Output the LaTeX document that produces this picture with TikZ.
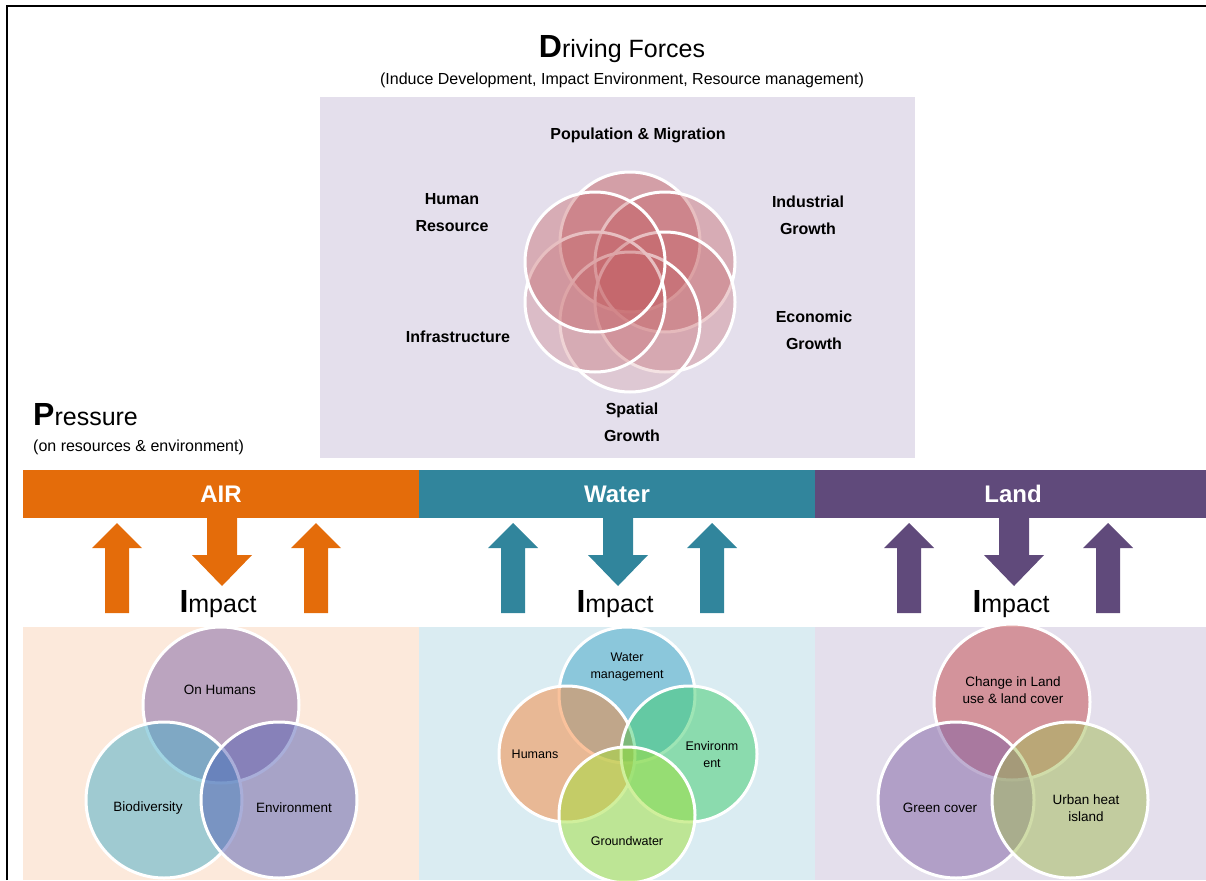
\documentclass[tikz,border=0pt]{standalone}
\usepackage{fontspec}
\setmainfont{Liberation Sans}
\usetikzlibrary{positioning}

\definecolor{airorange}{RGB}{228,108,10}
\definecolor{waterteal}{RGB}{49,133,156}
\definecolor{landpurple}{RGB}{96,74,123}
\definecolor{lavender}{RGB}{228,223,236}
\definecolor{peach}{RGB}{252,233,219}
\definecolor{paleblue}{RGB}{218,236,242}
\definecolor{rose}{RGB}{196,96,100}
% venn fills
\definecolor{vhumans}{RGB}{124,97,165}
\definecolor{vbio}{RGB}{68,173,201}
\definecolor{venv}{RGB}{84,95,181}
\definecolor{vwater}{RGB}{62,164,198}
\definecolor{vpeople}{RGB}{246,134,58}
\definecolor{vmint}{RGB}{62,204,108}
\definecolor{vground}{RGB}{162,224,58}
\definecolor{vchange}{RGB}{196,73,76}
\definecolor{vgreen}{RGB}{128,97,164}
\definecolor{vurban}{RGB}{162,187,84}

\newcommand{\initcap}[1]{{\fontsize{32}{32}\selectfont\bfseries #1}}
\newcommand{\uparr}[2]{\fill[#2] ({#1-12},613) -- ({#1-12},548) -- ({#1-25},548) -- (#1,523) -- ({#1+25},548) -- ({#1+12},548) -- ({#1+12},613) -- cycle;}
\newcommand{\downarr}[2]{\fill[#2] ({#1-15},518) -- ({#1-15},555) -- ({#1-30},555) -- (#1,586) -- ({#1+30},555) -- ({#1+15},555) -- ({#1+15},518) -- cycle;}

\tikzset{
  title/.style={inner sep=0pt, font=\fontsize{25}{30}\selectfont},
  note/.style={inner sep=0pt, font=\fontsize{16}{20}\selectfont},
  force/.style={inner sep=0pt, align=center, font=\fontsize{16}{27}\selectfont\bfseries},
  bar/.style={inner sep=0pt, minimum height=48, text=white, font=\fontsize{24}{24}\selectfont\bfseries},
  petal/.style={fill=rose, draw=white, line width=3pt},
  vennring/.style={draw=white, line width=3pt, fill opacity=0.5},
  venntxt/.style={inner sep=0pt, align=center, font=\fontsize{13.5}{17}\selectfont}
}

\begin{document}
\begin{tikzpicture}[x=1pt, y=-1pt]
\useasboundingbox (0,0) rectangle (1206,880);

 % frame
\draw[line width=2.5pt] (7,880) -- (7,6) -- (1206,6);

 % driving forces
\node[title, anchor=base] (drv) at (622,58) {\initcap{D}riving Forces};
\node[note] (drvsub) at (622,80) {(Induce Development, Impact Environment, Resource management)};
\fill[lavender] (320,97) rectangle (915,458);

\draw[petal, fill opacity=0.5] (630,242) circle (70);
\draw[petal, fill opacity=0.4] (665,262) circle (70);
\draw[petal, fill opacity=0.3] (665,302) circle (70);
\draw[petal, fill opacity=0.18] (630,322) circle (70);
\draw[petal, fill opacity=0.27] (595,302) circle (70);
\draw[petal, fill opacity=0.4] (595,262) circle (70);

\node[force] (pop) at (638,135.5) {Population \& Migration};
\node[force] (hum) at (452,213) {Human\\Resource};
\node[force] (ind) at (808,215) {Industrial\\Growth};
\node[force] (eco) at (814,330) {Economic\\Growth};
\node[force] (inf) at (458,337) {Infrastructure};
\node[force] (spa) at (632,422) {Spatial\\Growth};

 % pressure
\node[title, anchor=base west] (prs) at (33,425) {\initcap{P}ressure};
\node[note, anchor=west] (prssub) at (33,447) {(on resources \& environment)};

\node[bar, fill=airorange, minimum width=396] (air) at (221,494) {AIR};
\node[bar, fill=waterteal, minimum width=396] (water) at (617,494) {Water};
\node[bar, fill=landpurple, minimum width=396] (land) at (1013,494) {Land};

 % arrows
\uparr{117}{airorange}
\downarr{222}{airorange}
\uparr{316}{airorange}
\uparr{513}{waterteal}
\downarr{618}{waterteal}
\uparr{712}{waterteal}
\uparr{909}{landpurple}
\downarr{1014}{landpurple}
\uparr{1108}{landpurple}

\node[title, anchor=base] (impair) at (218,612) {\initcap{I}mpact};
\node[title, anchor=base] (impwater) at (615,612) {\initcap{I}mpact};
\node[title, anchor=base] (impland) at (1011,612) {\initcap{I}mpact};

 % impact panels
\fill[peach] (23,627) rectangle (419,880);
\fill[paleblue] (419,627) rectangle (815,880);
\fill[lavender] (815,627) rectangle (1206,880);

\draw[vennring, fill=vhumans] (221,705) circle (78);
\draw[vennring, fill=vbio] (164,800) circle (78);
\draw[vennring, fill=venv] (279,800) circle (78);
\node[venntxt] (onhum) at (220,690) {On Humans};
\node[venntxt] (bio) at (148,808) {Biodiversity};
\node[venntxt] (envair) at (294,808) {Environment};

\draw[vennring, fill=vwater] (627,695) circle (68);
\draw[vennring, fill=vpeople] (567,754) circle (68);
\draw[vennring, fill=vmint] (689,754) circle (68);
\draw[vennring, fill=vground] (627,815) circle (68);
\node[venntxt, font=\fontsize{12.5}{17}\selectfont] (wman) at (627,667) {Water\\management};
\node[venntxt, font=\fontsize{12.5}{17}\selectfont] (whum) at (535,754) {Humans};
\node[venntxt, font=\fontsize{12.5}{17}\selectfont] (wenv) at (712,755) {Environm\\ent};
\node[venntxt, font=\fontsize{12.5}{17}\selectfont] (gw) at (627,841) {Groundwater};

\draw[vennring, fill=vchange] (1012,702) circle (78);
\draw[vennring, fill=vgreen] (956,800) circle (78);
\draw[vennring, fill=vurban] (1070,800) circle (78);
\node[venntxt] (lulc) at (1013,690) {Change in Land\\use \& land cover};
\node[venntxt] (green) at (940,808) {Green cover};
\node[venntxt] (uhi) at (1086,808) {Urban heat\\island};
\end{tikzpicture}
\end{document}
